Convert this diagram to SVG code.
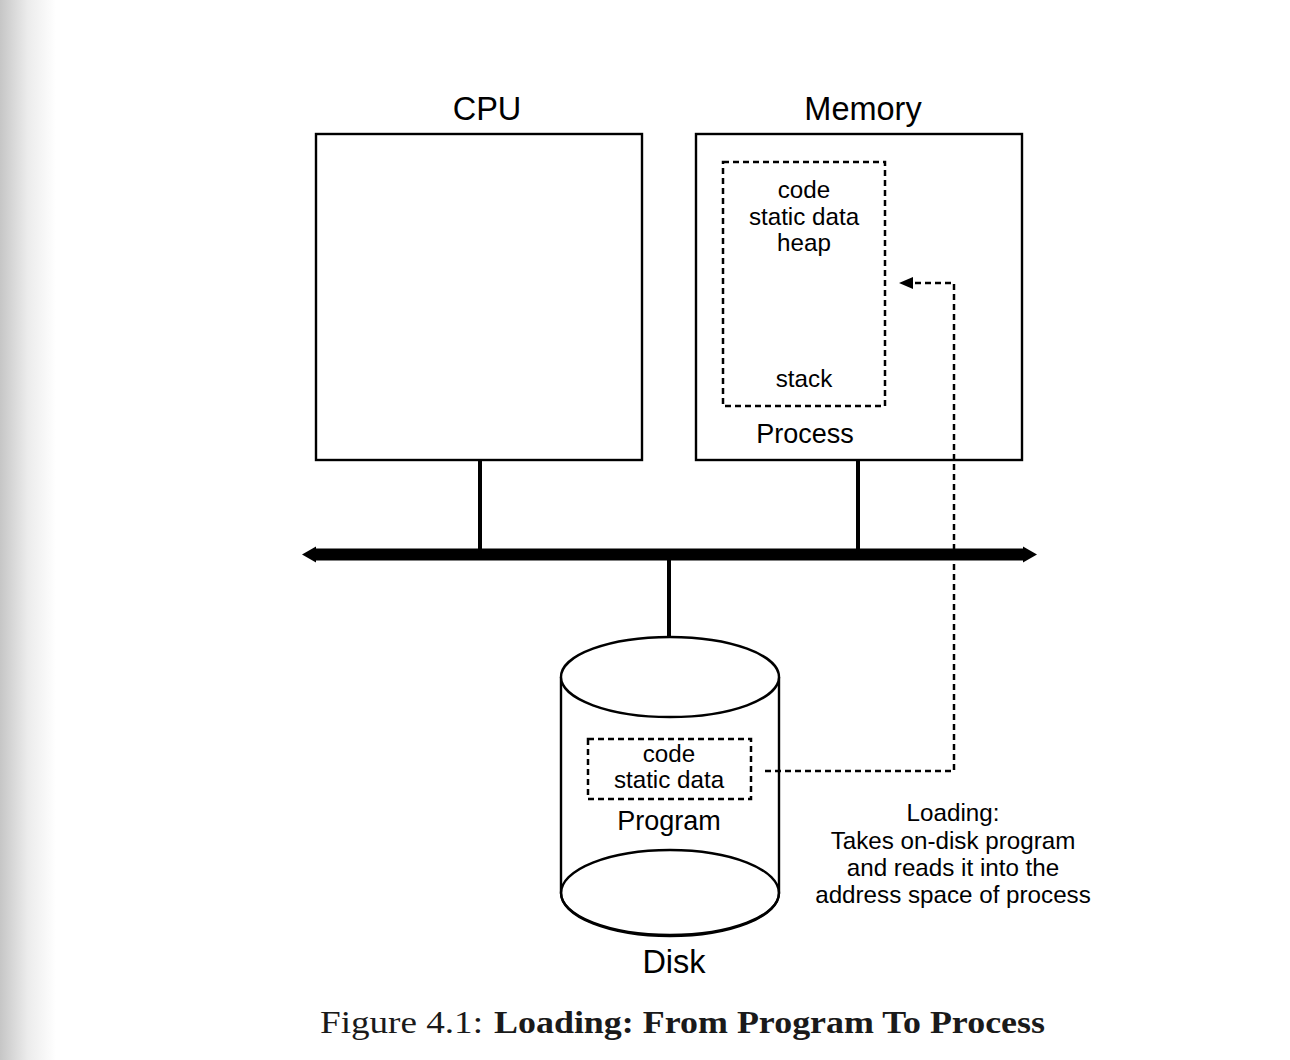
<svg xmlns="http://www.w3.org/2000/svg" width="1290" height="1060" viewBox="0 0 1290 1060">
<defs>
<linearGradient id="edge" x1="0" y1="0" x2="1" y2="0">
<stop offset="0" stop-color="#c6c6c6"/>
<stop offset="0.5" stop-color="#ececec"/>
<stop offset="1" stop-color="#ffffff"/>
</linearGradient>
</defs>
<style>
.box{fill:#fff;stroke:#000;stroke-width:2.4}
.dash{fill:none;stroke:#000;stroke-width:2.5;stroke-dasharray:6 4}
.wire{stroke:#000;stroke-width:4;fill:none}
.t{font-family:"Liberation Sans",Arial,sans-serif;fill:#000;text-anchor:middle}
.cap{font-family:"Liberation Serif","Times New Roman",serif;fill:#1a1a1a;font-size:31px}
</style>
<rect x="0" y="0" width="1290" height="1060" fill="#fff"/>
<rect x="0" y="0" width="56" height="1060" fill="url(#edge)"/>

<g id="cpu">
<rect class="box" x="316" y="134" width="326" height="326"/>
<text class="t" x="487" y="120" font-size="32.5">CPU</text>
</g>

<g id="memory">
<rect class="box" x="696" y="134" width="326" height="326"/>
<text class="t" x="863" y="120" font-size="32.5">Memory</text>
<rect class="dash" x="723" y="162" width="162" height="244"/>
<text class="t" x="804" y="198" font-size="24.2">code</text>
<text class="t" x="804" y="225" font-size="24.2">static data</text>
<text class="t" x="804" y="251" font-size="24.2">heap</text>
<text class="t" x="804" y="387" font-size="24.2">stack</text>
<text class="t" x="805" y="443" font-size="27">Process</text>
</g>

<g id="disk">
<path class="box" d="M561,677 L561,893 A109,42 0 0 0 779,893 L779,677"/>
<ellipse class="box" cx="670" cy="677" rx="109" ry="40"/>
<ellipse fill="none" stroke="#000" stroke-width="2.4" cx="670" cy="893" rx="109" ry="43"/>
<rect class="dash" x="588" y="739" width="163" height="60"/>
<text class="t" x="669" y="762" font-size="24.2">code</text>
<text class="t" x="669" y="788" font-size="24.2">static data</text>
<text class="t" x="669" y="830" font-size="27">Program</text>
<text class="t" x="674" y="973" font-size="32.5">Disk</text>
</g>

<g id="note">
<text class="t" x="953" y="821" font-size="24.2">Loading:</text>
<text class="t" x="953" y="849" font-size="24.2">Takes on-disk program</text>
<text class="t" x="953" y="876" font-size="24.2">and reads it into the</text>
<text class="t" x="953" y="903" font-size="24.2">address space of process</text>
</g>

<g id="connectors">
<line class="wire" x1="480" y1="460" x2="480" y2="550"/>
<line class="wire" x1="858" y1="460" x2="858" y2="550"/>
<line class="wire" x1="669" y1="559" x2="669" y2="636"/>
<path d="M302,554.5 L316,546.5 L316,548.5 L1023,548.5 L1023,546.5 L1037,554.5 L1023,562.5 L1023,560.5 L316,560.5 L316,562.5 Z" fill="#000"/>
<path class="dash" d="M765,771 L954,771 L954,283 L910,283"/>
<path d="M899,283 L913,277 L913,289 Z" fill="#000"/>
</g>

<g id="caption">
<text class="cap" x="320" y="1033" textLength="163" lengthAdjust="spacingAndGlyphs">Figure 4.1:</text>
<text class="cap" x="494" y="1033" font-weight="bold" textLength="551" lengthAdjust="spacingAndGlyphs">Loading: From Program To Process</text>
</g>
</svg>
